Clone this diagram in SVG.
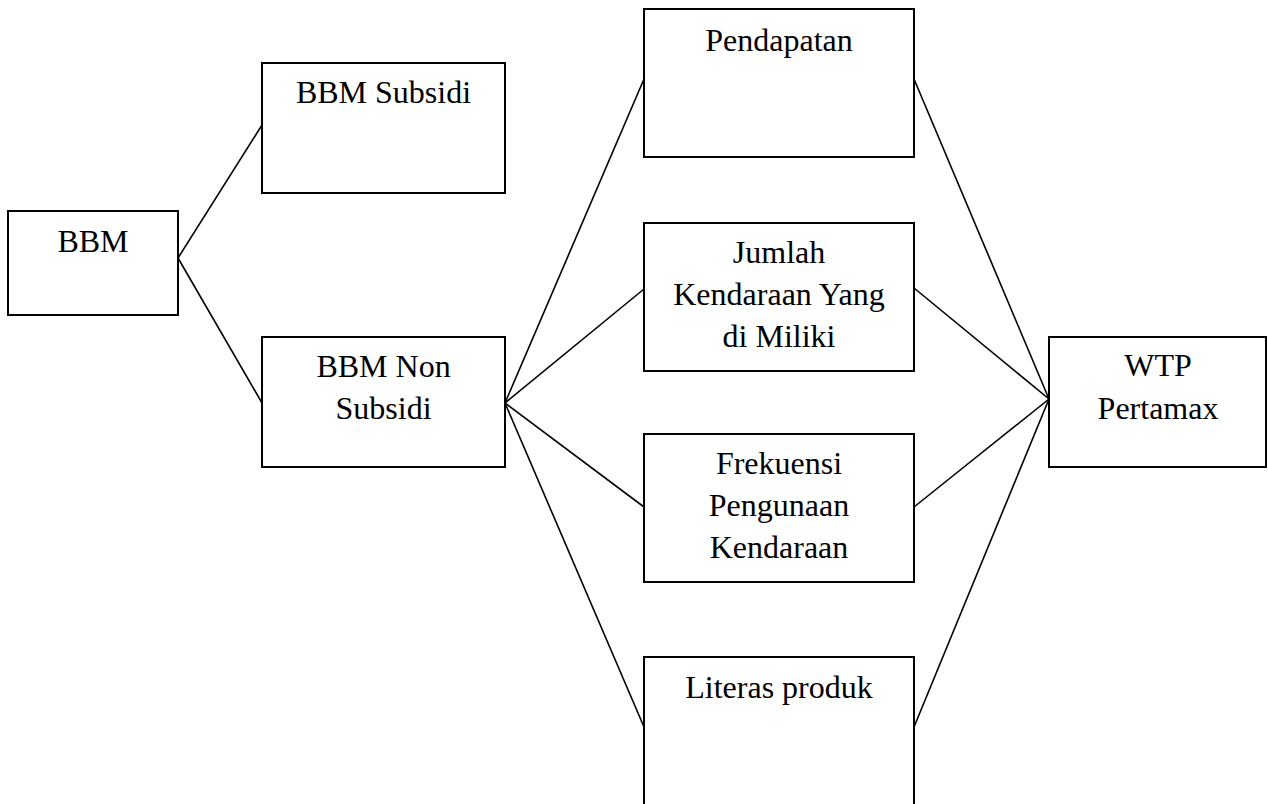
<svg xmlns="http://www.w3.org/2000/svg" width="1268" height="804" viewBox="0 0 1268 804">
<style>
rect{fill:#fff;stroke:#000;stroke-width:2}
line{stroke:#000;stroke-width:1.6}
text{font-size:32px;fill:#000;text-anchor:middle}
</style>
<rect x="0" y="0" width="1268" height="804" style="stroke:none"/>
<g id="connectors">
<line x1="178" y1="258" x2="262" y2="125"/>
<line x1="178" y1="258" x2="262" y2="403"/>
<line x1="505" y1="403" x2="644" y2="79"/>
<line x1="505" y1="403" x2="644" y2="289"/>
<line x1="505" y1="403" x2="644" y2="507"/>
<line x1="505" y1="403" x2="644" y2="727"/>
<line x1="914" y1="79" x2="1049" y2="399"/>
<line x1="914" y1="288" x2="1049" y2="399"/>
<line x1="914" y1="507" x2="1049" y2="399"/>
<line x1="914" y1="727" x2="1049" y2="399"/>
</g>
<g font-family="'Liberation Serif', 'Times New Roman', serif">
<g id="bbm"><rect x="8" y="211" width="170" height="104"/><text x="93" y="252">BBM</text></g>
<g id="bbm-subsidi"><rect x="262" y="63" width="243" height="130"/><text x="383.5" y="103">BBM Subsidi</text></g>
<g id="bbm-non-subsidi"><rect x="262" y="337" width="243" height="130"/><text x="383.5" y="377">BBM Non</text><text x="383.5" y="419">Subsidi</text></g>
<g id="pendapatan"><rect x="644" y="9" width="270" height="148"/><text x="779" y="51">Pendapatan</text></g>
<g id="jumlah"><rect x="644" y="223" width="270" height="148"/><text x="779" y="263">Jumlah</text><text x="779" y="305">Kendaraan Yang</text><text x="779" y="347">di Miliki</text></g>
<g id="frekuensi"><rect x="644" y="434" width="270" height="148"/><text x="779" y="474">Frekuensi</text><text x="779" y="516">Pengunaan</text><text x="779" y="558">Kendaraan</text></g>
<g id="literas"><rect x="644" y="657" width="270" height="160"/><text x="779" y="698">Literas produk</text></g>
<g id="wtp"><rect x="1049" y="337" width="217" height="130"/><text x="1158" y="376">WTP</text><text x="1158" y="419">Pertamax</text></g>
</g>
</svg>
